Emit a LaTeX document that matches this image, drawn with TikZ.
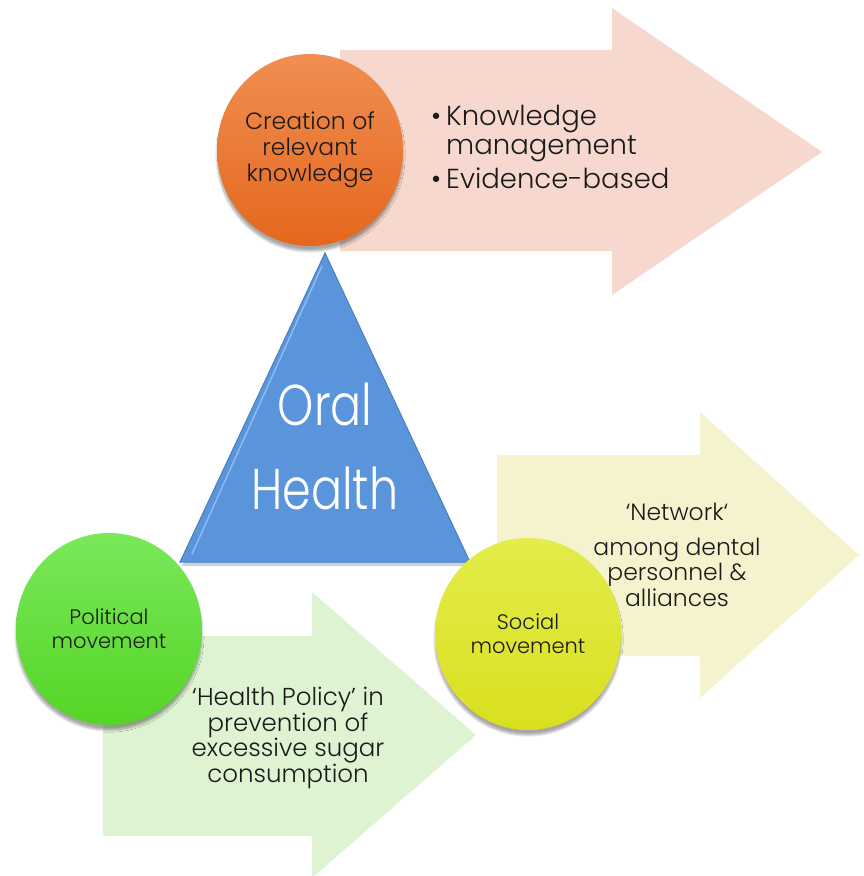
\documentclass[tikz,border=0pt]{standalone}
\usepackage{fontspec}
\setmainfont{Poppins}
\newfontfamily\lightface{Poppins Light}
\usetikzlibrary{shapes.geometric,shadows.blur}

\definecolor{pinkarrow}{HTML}{F7D8CE}
\definecolor{greenarrow}{HTML}{DDF3D2}
\definecolor{yellowarrow}{HTML}{F5F2CE}
\definecolor{orangetop}{HTML}{F08E52}
\definecolor{orangebot}{HTML}{E5671C}
\definecolor{greentop}{HTML}{7AE85A}
\definecolor{greenbot}{HTML}{55D526}
\definecolor{yellowtop}{HTML}{E3EC4A}
\definecolor{yellowbot}{HTML}{D9E01E}
\definecolor{triblue}{HTML}{5A95DB}
\definecolor{triedge}{HTML}{4A7FC0}
\definecolor{trilight}{HTML}{8DBAF0}
\definecolor{inktext}{HTML}{1A1A1A}

\tikzset{
  movement/.style={ellipse, inner sep=0pt, minimum width=186pt, minimum height=192pt,
    align=center, text=inktext, font=\lightface\fontsize{21}{24}\selectfont,
    blur shadow={shadow xshift=0pt, shadow yshift=-5pt, shadow blur steps=8, shadow opacity=35}},
  arrowtext/.style={align=center, text=inktext, inner sep=0pt, font=\lightface\fontsize{23.5}{25.5}\selectfont},
}

\begin{document}
\begin{tikzpicture}[x=1pt, y=-1pt]
\useasboundingbox (0,0) rectangle (864,876);

% broad arrows behind the circles
\fill[pinkarrow] (340,50) -- (612,50) -- (612,8) -- (822,152) -- (612,295) -- (612,251) -- (340,251) -- cycle;
\fill[yellowarrow] (497,455) -- (700,455) -- (700,412) -- (859,555) -- (700,698) -- (700,656) -- (497,656) -- cycle;
\fill[greenarrow] (103,636) -- (312,636) -- (312,592) -- (476,735) -- (312,878) -- (312,836) -- (103,836) -- cycle;

% central triangle
\fill[triedge!60!black, opacity=0.25] (182,566) -- (472,566) -- (327,258) -- cycle;
\draw[triedge, line width=1pt, fill=triblue] (325,253) -- (470,562) -- (180,562) -- cycle;
\draw[trilight, line width=1.5pt, line cap=round] (322,266) -- (192,554);
\node[text=white, align=center, inner sep=0pt] (oral) at (325,404)
  {\scalebox{1}[1.25]{\lightface\fontsize{46}{46}\selectfont Oral}};
\node[text=white, align=center, inner sep=0pt] (health) at (325,488)
  {\scalebox{1}[1.25]{\lightface\fontsize{46}{46}\selectfont Health}};

% the three movements
\node[movement, top color=orangetop, bottom color=orangebot, font=\lightface\fontsize{23.5}{26}\selectfont]
  (knowledge) at (310,150) {Creation of\\relevant\\knowledge};
\node[movement, top color=greentop, bottom color=greenbot] (political) at (109,629)
  {Political\\movement};
\node[movement, top color=yellowtop, bottom color=yellowbot] (social) at (528,634)
  {Social\\movement};

% texts carried by the arrows
\node[arrowtext, align=left, anchor=north west, font=\lightface\fontsize{27.5}{29}\selectfont] (bullets) at (431,105)
  {\makebox[15pt][l]{•}Knowledge\\\hspace*{15pt}management\\[5pt]\makebox[15pt][l]{•}Evidence-based};
\node[arrowtext, font=\lightface\fontsize{24.5}{25.7}\selectfont] (policy) at (288,738)
  {‘Health Policy’ in\\prevention of\\excessive sugar\\consumption};
\node[arrowtext] (network) at (677,512) {‘Network‘};
\node[arrowtext] (dental) at (677,572) {among dental\\personnel \&\\alliances};
\end{tikzpicture}
\end{document}
